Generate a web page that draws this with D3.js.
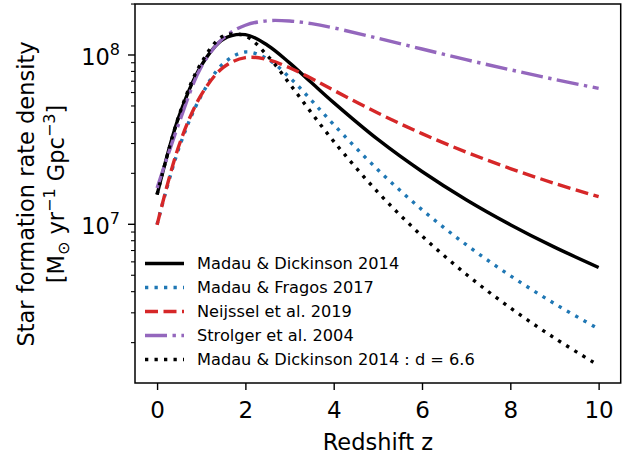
<!DOCTYPE html>
<html>
<head>
<meta charset="utf-8">
<script src="https://cdn.jsdelivr.net/npm/d3@7"></script>
<style>
  body { margin: 0; background: #fff; }
  text { font-family: "DejaVu Sans", sans-serif; fill: #000; }
</style>
</head>
<body>
<div id="chart"></div>
<script>
// redshift grid and star formation rate densities (Msun / yr / Gpc^3)
var redshift = [0, 0.5, 1, 1.5, 2, 2.5, 3, 3.5, 4, 5, 6, 7, 8, 9, 10];
var madauDickinson = [1.496e7, 4.374e7, 8.665e7, 1.240e8, 1.319e8, 1.142e8, 8.98e7, 6.85e7, 5.23e7, 3.17e7, 2.05e7, 1.397e7, 9.95e6, 7.33e6, 5.56e6];
var madauFragos = [9.99e6, 2.844e7, 5.751e7, 8.904e7, 1.042e8, 9.47e7, 7.37e7, 5.38e7, 3.88e7, 2.10e7, 1.22e7, 7.58e6, 4.97e6, 3.40e6, 2.41e6];
var neijssel = [9.93e6, 2.942e7, 5.808e7, 8.45e7, 9.65e7, 9.40e7, 8.41e7, 7.26e7, 6.19e7, 4.54e7, 3.43e7, 2.67e7, 2.135e7, 1.746e7, 1.455e7];
var strolger = [1.64e7, 3.98e7, 8.51e7, 1.259e8, 1.499e8, 1.593e8, 1.588e8, 1.531e8, 1.446e8, 1.255e8, 1.085e8, 9.38e7, 8.18e7, 7.18e7, 6.35e7];
var madauD66 = [1.499e7, 4.426e7, 8.975e7, 1.294e8, 1.294e8, 9.90e7, 6.77e7, 4.54e7, 3.09e7, 1.547e7, 8.53e6, 5.07e6, 3.21e6, 2.13e6, 1.467e6];

var seriesNames = ["Madau & Dickinson 2014", "Madau & Fragos 2017", "Neijssel et al. 2019", "Strolger et al. 2004", "Madau & Dickinson 2014 : d = 6.6"];
var xTicks = [0, 2, 4, 6, 8, 10];
var yMajor = [1e7, 1e8];

var svgWidth = 633;
var svgHeight = 456;
var margin = { top: 4, right: 12.3, bottom: 73, left: 135 };
var width = svgWidth - margin.left - margin.right;
var height = svgHeight - margin.top - margin.bottom;

var svg = d3.select("#chart")
  .append("svg")
  .attr("width", svgWidth)
  .attr("height", svgHeight);

var chartGroup = svg.append("g")
  .attr("transform", `translate(${margin.left}, ${margin.top})`);

var xScale = d3.scaleLinear()
  .domain([-0.5, 10.5])
  .range([0, width]);

var yScale = d3.scaleLog()
  .domain([Math.pow(10, 6.0626), Math.pow(10, 8.3012)])
  .range([height, 0]);

// styles for each series
var styles = [
  { color: "#000000", dash: null, width: 3.4 },
  { color: "#1f77b4", dash: "3.3,6.2", width: 3.4 },
  { color: "#d62728", dash: "13,5.5", width: 3.4 },
  { color: "#9467bd", dash: "22,5.5,3.4,5.5", width: 3.4 },
  { color: "#000000", dash: "3.3,6.2", width: 3.4 }
];
var allSeries = [madauDickinson, madauFragos, neijssel, strolger, madauD66];

svg.append("defs").append("clipPath").attr("id", "clip")
  .append("rect").attr("width", width).attr("height", height);

var line = d3.line()
  .x(d => xScale(d[0]))
  .y(d => yScale(d[1]))
  .curve(d3.curveCatmullRom.alpha(0.5));

var plotArea = chartGroup.append("g").attr("clip-path", "url(#clip)");

allSeries.forEach(function(vals, i) {
  var pts = redshift.map((z, j) => [z, vals[j]]);
  plotArea.append("path")
    .datum(pts)
    .attr("d", line)
    .attr("fill", "none")
    .attr("stroke", styles[i].color)
    .attr("stroke-width", styles[i].width)
    .attr("stroke-dasharray", styles[i].dash);
});

// x axis
var bottomAxis = d3.axisBottom(xScale)
  .tickValues(xTicks)
  .tickSize(7)
  .tickFormat(d3.format("d"));

var xAxisG = chartGroup.append("g")
  .attr("transform", `translate(0, ${height})`)
  .call(bottomAxis);
xAxisG.select(".domain").remove();
xAxisG.selectAll(".tick line").attr("stroke", "#000").attr("stroke-width", 1.4);
xAxisG.selectAll("text")
  .style("font-size", "23px")
  .style("font-family", "DejaVu Sans")
  .attr("y", 35)
  .attr("dy", 0);

// y axis, minor ticks
var minorTicks = [];
[1e6, 1e7, 1e8].forEach(function(dec) {
  for (var k = 2; k <= 9; k++) {
    var v = k * dec;
    if (v >= yScale.domain()[0] && v <= yScale.domain()[1]) minorTicks.push(v);
  }
});

chartGroup.append("g").selectAll("line")
  .data(minorTicks)
  .enter()
  .append("line")
  .attr("x1", -4).attr("x2", 0)
  .attr("y1", d => yScale(d)).attr("y2", d => yScale(d))
  .attr("stroke", "#000").attr("stroke-width", 1.1);

var yMajorG = chartGroup.append("g").selectAll("g")
  .data(yMajor)
  .enter()
  .append("g")
  .attr("transform", d => `translate(0, ${yScale(d)})`);

yMajorG.append("line")
  .attr("x1", -7).attr("x2", 0)
  .attr("stroke", "#000").attr("stroke-width", 1.4);

var yLabel = yMajorG.append("text")
  .attr("x", -15)
  .attr("y", 10)
  .attr("text-anchor", "end")
  .style("font-size", "22.5px");
yLabel.append("tspan").text("10");
yLabel.append("tspan")
  .attr("dy", -10)
  .style("font-size", "16px")
  .text(d => Math.round(Math.log10(d)));

// frame
chartGroup.append("rect")
  .attr("width", width)
  .attr("height", height)
  .attr("fill", "none")
  .attr("stroke", "#000")
  .attr("stroke-width", 1.5);

// axis labels
chartGroup.append("text")
  .attr("x", width / 2)
  .attr("y", 450 - margin.top)
  .attr("text-anchor", "middle")
  .style("font-size", "22.5px")
  .text("Redshift z");

var yTitle = svg.append("g")
  .attr("transform", "translate(0, 194) rotate(-90)");

yTitle.append("text")
  .attr("x", 0)
  .attr("y", 33.5)
  .attr("text-anchor", "middle")
  .style("font-size", "22.5px")
  .text("Star formation rate density");

var unitText = yTitle.append("text")
  .attr("x", 0)
  .attr("y", 63.5)
  .attr("text-anchor", "middle")
  .style("font-size", "22.5px");
unitText.append("tspan").text("[M");
unitText.append("tspan").attr("dy", 5).style("font-size", "16px").text("\u2299");
unitText.append("tspan").attr("dy", -5).text(" yr");
unitText.append("tspan").attr("dy", -9).style("font-size", "16px").text("\u22121");
unitText.append("tspan").attr("dy", 9).text(" Gpc");
unitText.append("tspan").attr("dy", -9).style("font-size", "16px").text("\u22123");
unitText.append("tspan").attr("dy", 9).text("]");

// legend
var legend = chartGroup.append("g")
  .attr("transform", `translate(10, ${263.5 - margin.top})`);

var legendRows = legend.selectAll("g")
  .data(seriesNames)
  .enter()
  .append("g")
  .attr("transform", (d, i) => `translate(0, ${i * 24})`);

legendRows.append("line")
  .attr("x1", 0).attr("x2", 39)
  .attr("stroke", (d, i) => styles[i].color)
  .attr("stroke-width", (d, i) => styles[i].width)
  .attr("stroke-dasharray", (d, i) => styles[i].dash);

legendRows.append("text")
  .attr("x", 52)
  .attr("y", 5.8)
  .style("font-size", "16.2px")
  .text(d => d);
</script>
</body>
</html>
